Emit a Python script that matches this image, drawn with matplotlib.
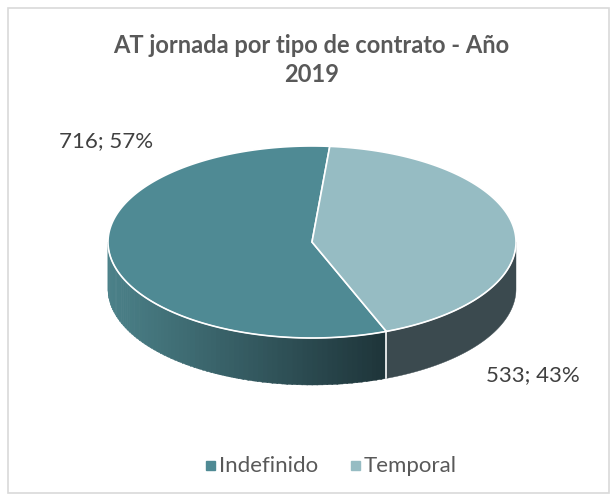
import numpy as np
import matplotlib.pyplot as plt
from matplotlib.patches import Polygon, Rectangle

# data
categorias = ["Indefinido", "Temporal"]
valores = [716, 533]
colores_top = ["#4F8A94", "#96BCC3"]
titulo = "AT jornada por tipo de contrato - Año\n2019"

# pie geometry (pixels)
W, H = 611, 495
cx, cy = 312, 242
a, b = 204, 96
depth = 47
start = 5.0  # degrees clockwise from top, where "Temporal" begins

fig = plt.figure(figsize=(W / 100, H / 100), dpi=100)
ax = fig.add_axes([0, 0, 1, 1])
ax.set_xlim(0, W)
ax.set_ylim(H, 0)
ax.axis("off")

ax.add_patch(Rectangle((8, 8), W - 10, H - 10, fill=False, ec="#D9D9D9", lw=1.2))


def pt(t, dy=0.0):
    r = np.radians(t)
    return cx + a * np.sin(r), cy - b * np.cos(r) + dy


total = sum(valores)
fr = [v / total for v in valores]
# Temporal first clockwise from start, then Indefinido
span_t = fr[1] * 360
ang = {
    "Temporal": (start, start + span_t),
    "Indefinido": (start + span_t, start + 360),
}


# side walls (visible from 90 to 270 deg)
def side(t1, t2, color):
    t1, t2 = max(t1, 90), min(t2, 270)
    if t2 <= t1:
        return
    ts = np.linspace(t1, t2, 60)
    top = [pt(t) for t in ts]
    bot = [pt(t, depth) for t in ts[::-1]]
    ax.add_patch(Polygon(top + bot, closed=True, fc=color, ec=color, lw=0.3))


side(*ang["Temporal"], "#3B4A4F")

# gradient side for Indefinido (light on the left, dark on the right)
c_left = np.array([0x4B, 0x81, 0x89]) / 255
c_right = np.array([0x1E, 0x34, 0x39]) / 255
t1, t2 = ang["Indefinido"][0], 270
x_l, x_r = pt(270)[0], pt(t1)[0]
edges = np.linspace(t1, t2, 80)
for i in range(len(edges) - 1):
    xm = pt((edges[i] + edges[i + 1]) / 2)[0]
    f = (xm - x_l) / (x_r - x_l)
    col = c_left * (1 - f) + c_right * f
    side(edges[i], edges[i + 1] + 0.3, col)

# split line on side
xs, ys = pt(ang["Indefinido"][0])
ax.plot([xs, xs], [ys, ys + depth], color="white", lw=1.2)

# top face
for nombre, col in zip(categorias, colores_top):
    t1, t2 = ang[nombre]
    ts = np.linspace(t1, t2, 200)
    pts = [(cx, cy)] + [pt(t) for t in ts]
    ax.add_patch(Polygon(pts, closed=True, fc=col, ec="white", lw=1.2))

# front edge highlight
ts = np.linspace(95, 265, 200)
e = np.array([pt(t) for t in ts])
ax.plot(e[:, 0], e[:, 1], color="white", lw=0.8, alpha=0.8)

txt = "#595959"
font = "Lato"
ax.text(W / 2 + 6, 60, titulo, ha="center", va="center", fontsize=17,
        fontweight="bold", color=txt, family=font, linespacing=1.35)

pct = [round(v * 100) for v in fr]
ax.text(106, 141, f"{valores[0]}; {pct[0]}%", ha="center", va="center",
        fontsize=16, color="#404040", family=font)
ax.text(533, 375, f"{valores[1]}; {pct[1]}%", ha="center", va="center",
        fontsize=16, color="#404040", family=font)

# legend
ax.add_patch(Rectangle((206, 461), 9, 9, color=colores_top[0]))
ax.text(219, 466, categorias[0], ha="left", va="center", fontsize=16,
        color=txt, family=font)
ax.add_patch(Rectangle((351, 461), 9, 9, color=colores_top[1]))
ax.text(364, 466, categorias[1], ha="left", va="center", fontsize=16,
        color=txt, family=font)

fig.savefig("out.png", dpi=100)
